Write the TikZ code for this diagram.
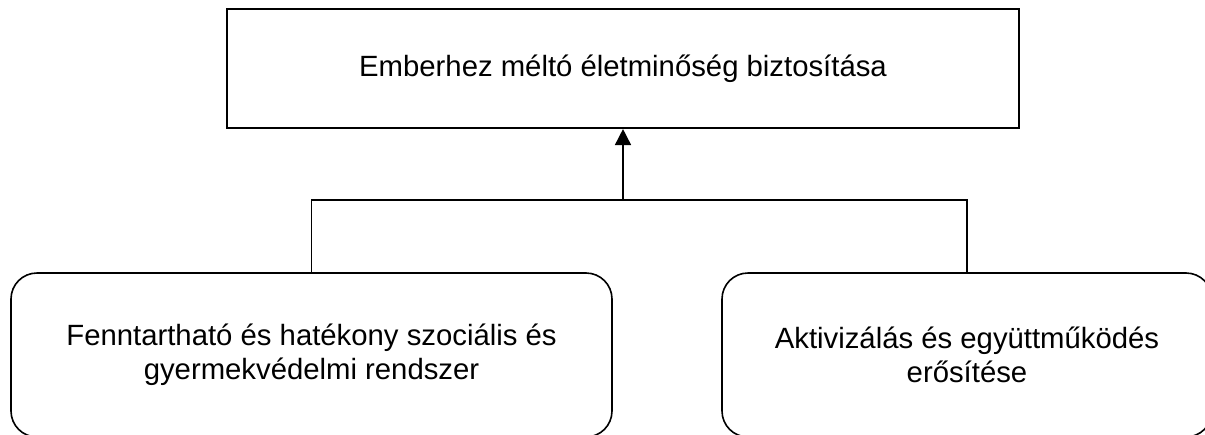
\documentclass[tikz,border=0pt]{standalone}
\usepackage{fontspec}
\setmainfont{Liberation Sans}
\usetikzlibrary{arrows.meta}
\begin{document}
\begin{tikzpicture}[x=1pt,y=-1pt,
  txt/.style={font=\fontsize{29.3}{33.7}\selectfont, align=center, inner sep=0pt},
  topbox/.style={draw, line width=2.1pt, rectangle, inner sep=0pt},
  subbox/.style={draw, line width=1.6pt, rectangle, rounded corners=26pt, inner sep=0pt},
  conn/.style={draw, line width=1.6pt},
  arr/.style={conn, -{Triangle[width=16pt,length=16pt]}}]
\useasboundingbox (0,0) rectangle (1205,434);
\clip (0,0) rectangle (1205,434);
\node[topbox, minimum width=792pt, minimum height=119pt] (T) at (623,68.5) {};
\node[txt, anchor=base] (Tt) at (623,76) {Emberhez méltó életminőség biztosítása};
\node[subbox, minimum width=601pt, minimum height=164pt] (L) at (311.5,355) {};
\node[subbox, minimum width=490pt, minimum height=164pt] (R) at (967,355) {};
\node[txt] (Lt) at (311.5,355) {Fenntartható és hatékony szociális és\\gyermekvédelmi rendszer};
\node[txt] (Rt) at (967,355) {Aktivizálás és együttműködés\\erősítése};
\coordinate (J) at (623,200);
\draw[conn] (L.north) |- (J) -| (R.north);
\draw[arr] (J) -- (T.south);
\end{tikzpicture}
\end{document}
